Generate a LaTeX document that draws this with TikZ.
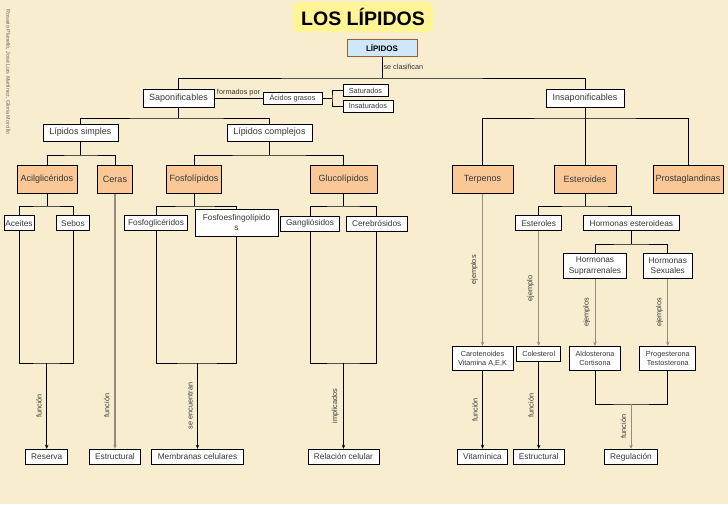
\documentclass[tikz,border=0pt]{standalone}
\usepackage{fontspec}
\setmainfont{Liberation Sans}
\usetikzlibrary{arrows.meta}
\definecolor{fondo}{RGB}{249,237,208}
\definecolor{naranja}{RGB}{250,200,150}
\definecolor{azulraiz}{RGB}{206,232,250}
\definecolor{marron}{RGB}{150,95,55}
\definecolor{amarillo}{RGB}{255,244,150}
\definecolor{textogris}{RGB}{55,55,55}
\definecolor{enlacegris}{RGB}{150,140,125}
\definecolor{creditogris}{RGB}{105,100,92}

\begin{document}
\begin{tikzpicture}[x=1pt, y=-1pt, >={Stealth[length=4pt,width=3.4pt]}, line width=1pt]
\tikzset{
  titulo/.style={fill=amarillo, rounded corners=5pt, minimum width=140pt, minimum height=30pt, font=\fontsize{19.5}{20}\selectfont\bfseries},
  raiz/.style={draw=marron, fill=azulraiz, minimum width=70pt, minimum height=17pt, inner sep=0pt, font=\fontsize{8}{9}\selectfont\bfseries},
  caja/.style={draw, fill=white, inner sep=0pt, minimum height=18pt, text=textogris, font=\fontsize{9}{10}\selectfont},
  grupo/.style={draw, fill=naranja, inner sep=0pt, minimum height=28pt, text=textogris, font=\fontsize{9}{10}\selectfont},
  hoja/.style={draw, fill=white, inner sep=0pt, minimum height=15pt, text=textogris, align=center, font=\fontsize{8.3}{10.5}\selectfont},
  chica/.style={draw, fill=white, inner sep=0pt, minimum height=12pt, text=textogris, align=center, font=\fontsize{7.3}{9}\selectfont},
  enlace/.style={inner sep=1pt, text=textogris, font=\fontsize{7.3}{8}\selectfont},
  vert/.style={enlace, rotate=90, anchor=south, inner sep=4.5pt},
  credito/.style={text=creditogris, font=\fontsize{5.4}{6}\selectfont},
  flecha/.style={->, line width=0.8pt},
  flechagris/.style={->, line width=0.8pt, draw=enlacegris}
}
\fill[fondo] (0,0) rectangle (728,504);

\node[credito, rotate=-90] (cred) at (8,72) {Rosario Planelló, José Luis Martínez, Gloria Morcillo};
\node[titulo] (tit) at (363,17) {LOS LÍPIDOS};
\node[raiz] (lip) at (382,47.5) {LÍPIDOS};

\node[caja, minimum width=71pt] (sap) at (178.5,98) {Saponificables};
\node[caja, minimum width=78pt] (insap) at (585,98) {Insaponificables};
\node[chica, minimum width=59pt] (acg) at (292.5,98) {Ácidos grasos};
\node[chica, minimum width=45pt] (sat) at (365.5,90.5) {Saturados};
\node[chica, minimum width=50pt] (insat) at (368,106) {Insaturados};
\node[caja, minimum width=75pt, minimum height=17pt] (lsim) at (80.5,132.5) {Lípidos simples};
\node[caja, minimum width=85pt, minimum height=17pt] (lcom) at (269.5,132.5) {Lípidos complejos};

\node[grupo, minimum width=60pt] (acil) at (47,179.5) {Acilglicéridos};
\node[grupo, minimum width=35pt] (ceras) at (115,179.5) {Ceras};
\node[grupo, minimum width=55pt] (fosfo) at (194,179.5) {Fosfolípidos};
\node[grupo, minimum width=67pt] (gluco) at (343.5,179.5) {Glucolípidos};
\node[grupo, minimum width=61pt] (terp) at (482.5,179.5) {Terpenos};
\node[grupo, minimum width=62pt] (ester) at (585,179.5) {Esteroides};
\node[grupo, minimum width=70pt] (prost) at (688,179.5) {Prostaglandinas};

\node[hoja, minimum width=30pt] (aceit) at (19,223.3) {Aceites};
\node[hoja, minimum width=32.6pt] (sebos) at (73,223.3) {Sebos};
\node[hoja, minimum width=63.4pt] (fgli) at (156,223.3) {Fosfoglicéridos};
\node[hoja, minimum width=83pt, minimum height=27pt] (fesf) at (236.5,222.5) {Fosfoesfingolípido\\s};
\node[hoja, minimum width=58.6pt] (gang) at (310,223.5) {Gangliósidos};
\node[hoja, minimum width=60.7pt] (cere) at (376.7,223.5) {Cerebrósidos};
\node[hoja, minimum width=46pt] (esterol) at (538.7,223.3) {Esteroles};
\node[hoja, minimum width=96pt] (hest) at (631.3,223.3) {Hormonas esteroideas};
\node[hoja, minimum width=63.4pt, minimum height=25pt] (hsup) at (595,265.8) {Hormonas\\Suprarrenales};
\node[hoja, minimum width=49pt, minimum height=25pt] (hsex) at (667.8,265.8) {Hormonas\\Sexuales};

\node[chica, minimum width=61pt, minimum height=24.4pt] (carot) at (482.5,358.5) {Carotenoides\\Vitamina A,E,K};
\node[chica, minimum width=44pt, minimum height=15.4pt] (coles) at (538.7,354) {Colesterol};
\node[chica, minimum width=51.4pt, minimum height=24.4pt] (aldo) at (595,358.5) {Aldosterona\\Cortisona};
\node[chica, minimum width=55.7pt, minimum height=24.4pt] (proge) at (667.8,358.5) {Progesterona\\Testosterona};

\node[hoja, minimum width=42pt] (reserva) at (46.7,456.8) {Reserva};
\node[hoja, minimum width=51.4pt] (estr1) at (115,456.8) {Estructural};
\node[hoja, minimum width=92.7pt] (memb) at (197.5,456.8) {Membranas celulares};
\node[hoja, minimum width=71pt] (relac) at (343.5,456.8) {Relación celular};
\node[hoja, minimum width=50pt] (vitam) at (482.5,456.8) {Vitamínica};
\node[hoja, minimum width=51pt] (estr2) at (538.7,456.8) {Estructural};
\node[hoja, minimum width=53pt] (regul) at (631,456.8) {Regulación};

\coordinate (c1) at (382,78);
\coordinate (j0) at (332,98);
\coordinate (j2) at (178.5,118);
\coordinate (j3) at (585,118);
\coordinate (j4) at (80.5,155);
\coordinate (j5) at (269.5,155);
\coordinate (j6) at (47,206);
\coordinate (j7) at (194,206);
\coordinate (j8) at (343.5,206);
\coordinate (j9) at (585,206);
\coordinate (j10) at (631.3,244);
\coordinate (j11) at (46.7,363);
\coordinate (j12) at (197.5,363);
\coordinate (j13) at (343.5,363);
\coordinate (j14) at (631,404);

\draw (lip) -- node[enlace, anchor=west, midway] {se clasifican} (c1);
\draw (sap.north) |- (c1) -| (insap.north);
\draw (sap) -- node[enlace, above] {formados por} (acg);
\draw (acg) -- (j0);
\draw (sat.west) -| (j0) |- (insat.west);
\draw (sap) -- (j2);
\draw (lsim.north) |- (j2) -| (lcom.north);
\draw (insap) -- (j3);
\draw (terp.north) |- (j3) -| (prost.north);
\draw (j3) -- (ester);
\draw (lsim) -- (j4);
\draw (acil.north) |- (j4) -| (ceras.north);
\draw (lcom) -- (j5);
\draw (fosfo.north) |- (j5) -| (gluco.north);
\draw (acil) -- (j6);
\draw (aceit.north) |- (j6) -| (sebos.north);
\draw (fosfo) -- (j7);
\draw (fgli.north) |- (j7) -| (fesf.north);
\draw (gluco) -- (j8);
\draw (gang.north) |- (j8) -| (cere.north);
\draw (ester) -- (j9);
\draw (esterol.north) |- (j9) -| (hest.north);
\draw (hest) -- (j10);
\draw (hsup.north) |- (j10) -| (hsex.north);

\draw (aceit.south) |- (j11) -| (sebos.south);
\draw (fgli.south) |- (j12) -| (fesf.south);
\draw (gang.south) |- (j13) -| (cere.south);
\draw (aldo.south) |- (j14) -| (proge.south);

\draw[flecha] (j11) -- node[vert, midway] {función} (reserva);
\draw[flecha, line width=2pt, draw=enlacegris] (ceras) -- node[vert, pos=0.83] {función} (estr1);
\draw[flecha] (j12) -- node[vert, midway] {se encuentran} (memb);
\draw[flecha] (j13) -- node[vert, midway] {implicados} (relac);
\draw[flechagris] (terp) -- node[vert, midway] {ejemplos} (carot);
\draw[flechagris] (esterol) -- node[vert, midway] {ejemplo} (coles);
\draw[flechagris] (hsup) -- node[vert, midway] {ejemplos} (aldo);
\draw[flechagris] (hsex) -- node[vert, midway] {ejemplos} (proge);
\draw[flecha] (carot) -- node[vert, midway] {función} (vitam);
\draw[flecha] (coles) -- node[vert, midway] {función} (estr2);
\draw[flechagris] (j14) -- node[vert, midway] {función} (regul);
\end{tikzpicture}
\end{document}
